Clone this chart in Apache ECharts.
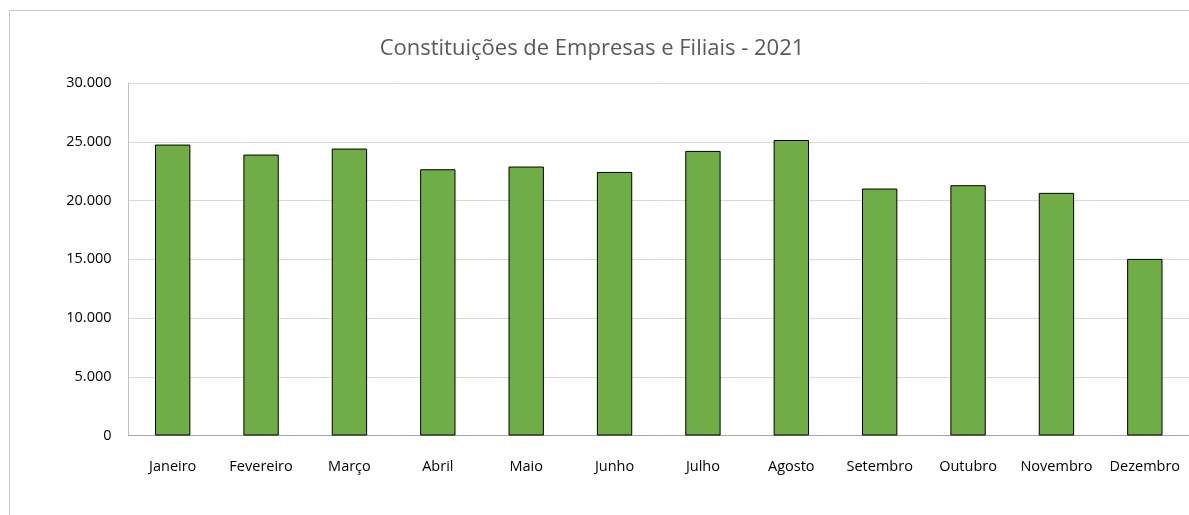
<!DOCTYPE html>
<html>
<head>
<meta charset="utf-8">
<script src="https://cdn.jsdelivr.net/npm/echarts@6/dist/echarts.min.js"></script>
<style>
  html, body { margin: 0; padding: 0; background: #fff; }
  #chart { width: 1189px; height: 515px; }
</style>
</head>
<body>
<div id="chart"></div>
<script>
// meses e valores (constituições por mês)
var months = ['Janeiro', 'Fevereiro', 'Março', 'Abril', 'Maio', 'Junho',
  'Julho', 'Agosto', 'Setembro', 'Outubro', 'Novembro', 'Dezembro'];
var constituicoes = [24760, 23910, 24420, 22660, 22890, 22430,
  24220, 25150, 21020, 21300, 20650, 15030];
var yTicks = [0, 5000, 10000, 15000, 20000, 25000, 30000];

function fmt(v) {
  return String(v).replace(/\B(?=(\d{3})+(?!\d))/g, '.');
}

var chart = echarts.init(document.getElementById('chart'));

var option = {
  animation: false,
  title: {
    text: 'Constituições de Empresas e Filiais - 2021',
    left: 587,
    top: 33,
    textAlign: 'center',
    textStyle: {
      fontFamily: 'Open Sans',
      fontSize: 22,
      fontWeight: 'normal',
      color: '#595959'
    }
  },
  graphic: [{
    type: 'rect',
    z: -10,
    silent: true,
    shape: { x: 9.5, y: 10.5, width: 1300, height: 700 },
    style: { fill: 'none', stroke: '#c8c8c8', lineWidth: 1 }
  }],
  grid: {
    left: 128.5,
    right: 0,
    top: 83,
    bottom: 79.5,
    containLabel: false
  },
  xAxis: {
    type: 'category',
    data: months,
    axisLine: { show: true, lineStyle: { color: '#a6a6a6', width: 1 } },
    axisTick: { show: false },
    axisLabel: {
      margin: 24,
      fontFamily: 'Open Sans',
      fontSize: 14.5,
      color: '#000',
      interval: 0
    }
  },
  yAxis: {
    type: 'value',
    min: yTicks[0],
    max: yTicks[yTicks.length - 1],
    interval: 5000,
    axisLine: { show: true, lineStyle: { color: '#bfbfbf', width: 1 } },
    axisTick: { show: false },
    splitLine: { lineStyle: { color: '#d9d9d9', width: 1 } },
    axisLabel: {
      margin: 17,
      fontFamily: 'Open Sans',
      fontSize: 14.5,
      color: '#000',
      formatter: function(v) { return fmt(v); }
    }
  },
  series: [{
    type: 'bar',
    data: constituicoes,
    barWidth: '40%',
    itemStyle: {
      color: '#70AD47',
      borderColor: '#000',
      borderWidth: 1
    }
  }]
};

chart.setOption(option);
</script>
</body>
</html>
